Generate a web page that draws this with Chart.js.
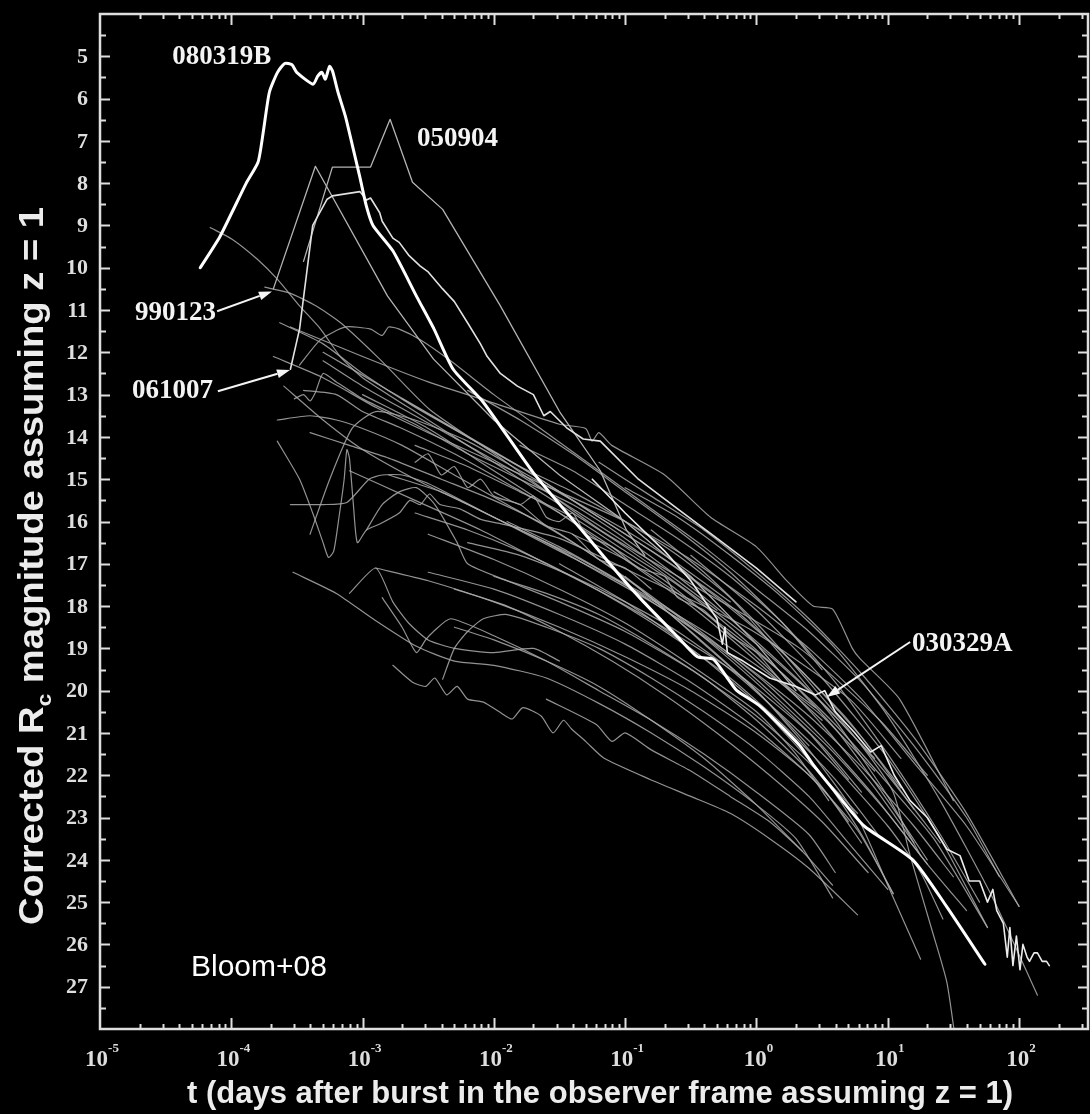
<!DOCTYPE html>
<html>
<head>
<meta charset="utf-8">
<script src="https://cdn.jsdelivr.net/npm/chart.js@4.4.1/dist/chart.umd.min.js"></script>
<style>
  html, body { margin: 0; padding: 0; background: #000; }
  #wrap { width: 1090px; height: 1114px; }
  canvas { display: block; background: #000; }
</style>
</head>
<body>
<div id="wrap"><canvas id="lc" width="1090" height="1114"></canvas></div>
<script>
// Optical afterglow light curves: [time (days, observer frame, z = 1), corrected Rc magnitude]

const xTickExponents = [-5, -4, -3, -2, -1, 0, 1, 2];
const yTickLabels = [5, 6, 7, 8, 9, 10, 11, 12, 13, 14, 15, 16, 17, 18, 19, 20, 21, 22, 23, 24, 25, 26, 27];

const grb080319B = [[5.8e-5,10.0],[8.2e-5,9.26],[1.3e-4,8.0],[1.6e-4,7.5],[1.75e-4,6.8],[1.95e-4,5.85],[2.25e-4,5.38],[2.55e-4,5.17],[2.9e-4,5.2],[3.15e-4,5.38],[4.2e-4,5.66],[4.55e-4,5.47],[4.9e-4,5.38],[5.2e-4,5.54],[5.6e-4,5.24],[5.9e-4,5.35],[6.5e-4,5.85],[7.4e-4,6.42],[8.5e-4,7.2],[9.6e-4,7.9],[1.07e-3,8.55],[1.2e-3,9.0],[1.7e-3,9.6],[2.6e-3,10.7],[3.5e-3,11.45],[4.9e-3,12.4],[8.3e-3,13.18],[2.0e-2,14.85],[4.8e-2,16.25],[9.6e-2,17.36],[0.138,17.9],[0.246,18.7],[0.355,19.2],[0.47,19.26],[0.6,19.7],[0.71,20.0],[1.07,20.37],[2.14,21.3],[2.7,21.75],[4.4,22.56],[6.6,23.2],[15.5,24.0],[28,25.1],[55,26.47]];

const grb050904 = [[3.55e-4,9.85],[5.89e-4,7.62],[1.15e-3,7.62],[1.62e-3,6.49],[2.4e-3,7.98],[4.07e-3,8.62],[1.12e-2,10.9],[3.16e-2,13.4],[6.46e-2,14.8],[0.102,16.2],[0.141,16.8]];

const grb990123 = [[2.09e-4,10.5],[4.37e-4,7.6],[1.55e-3,10.67],[3.47e-3,12.16],[1.0e-2,13.6],[3.16e-2,14.9],[0.1,16.0],[0.316,17.3],[1.0,18.9],[2.0,20.0]];

const grb061007 = [[2.82e-4,12.4],[3.31e-4,11.45],[4.17e-4,9.0],[5.37e-4,8.38],[5.89e-4,8.3],[9.55e-4,8.2],[1.07e-3,8.4],[1.15e-3,8.35],[1.35e-3,8.7],[1.41e-3,8.9],[1.7e-3,9.3],[1.9e-3,9.4],[2.24e-3,9.7],[2.75e-3,9.96],[3.16e-3,10.1],[4.07e-3,10.5],[5.0e-3,10.8],[6.3e-3,11.3],[7.9e-3,11.8],[8.9e-3,12.1],[1.12e-2,12.5],[1.51e-2,12.8],[2.0e-2,13.0],[2.4e-2,13.5],[2.69e-2,13.4],[3.63e-2,13.8],[4.79e-2,14.05],[6.46e-2,14.1],[0.126,15.0],[0.251,15.7],[0.501,16.4],[1.0,17.1],[2.0,17.9]];

const grb030329A = [[5.62e-2,15.0],[0.1,15.8],[0.2,16.7],[0.316,17.4],[0.5,18.3],[0.55,18.9],[0.575,18.5],[0.6,19.1],[0.79,19.3],[1.26,19.7],[2.0,19.9],[2.82,20.1],[3.31,20.0],[3.98,20.5],[5.62,21.0],[7.41,21.45],[8.91,21.3],[11.2,22.0],[14.8,22.6],[20,23.0],[28.2,23.75],[35.5,23.9],[41.7,24.5],[50.1,24.5],[57.5,25.0],[63.1,24.7],[67.6,25.2],[75.9,25.5],[81.3,26.3],[85.1,25.6],[89.8,26.5],[95.5,25.8],[101.6,26.6],[107,26.0],[115,26.3],[120,26.4],[130,26.2],[138,26.2],[150,26.4],[162,26.4],[170,26.5]];

const lc01 = [[6.9e-5,9.05],[1.02e-4,9.33],[1.58e-4,9.8],[2.24e-4,10.27],[3.31e-4,10.9],[4.79e-4,11.45],[6.76e-4,12.1],[1.0e-3,12.6],[3.16e-3,13.6],[1.0e-2,14.6],[3.16e-2,15.6],[0.1,16.6],[0.316,17.7],[1.0,18.9],[3.16,20.3],[7.94,21.6]];
const lc02 = [[1.8e-4,10.46],[2.8e-4,10.6],[4.4e-4,10.9],[6.8e-4,11.3],[1.35e-3,12.16],[3.24e-3,13.35],[1.12e-2,14.5],[6.46e-2,16.2],[0.37,17.6],[2.14,19.0],[8.7,20.7],[20,22.0]];
const lc03 = [[2.82e-4,11.4],[1.0e-3,12.1],[3.16e-3,12.7],[1.0e-2,13.2],[3.16e-2,13.7],[5.0e-2,13.8],[5.6e-2,14.1],[6.3e-2,13.9],[7.9e-2,14.2],[0.2,14.9],[0.447,15.9],[1.0,16.6],[1.7,17.4],[2.7,18.0],[3.8,18.07],[5.37,19.0],[6.17,19.25],[12.3,20.2],[31.6,22.6]];
const lc04 = [[2.09e-4,12.1],[5.0e-4,12.6],[1.26e-3,13.3],[3.16e-3,13.9],[1.0e-2,14.6],[3.16e-2,15.3],[0.1,16.0],[0.316,16.9],[1.0,18.0],[2.51,19.0],[6.31,20.2],[15.8,21.7],[39.8,23.2],[100,25.1]];
const lc05 = [[2.34e-4,11.3],[5.0e-4,11.8],[1.0e-3,12.5],[2.51e-3,13.3],[6.31e-3,14.0],[1.58e-2,14.7],[3.98e-2,15.3],[0.1,16.0],[0.251,16.8],[0.631,17.8],[1.58,19.2],[3.98,20.7],[10,22.5],[17.8,23.9]];
const lc06 = [[3.55e-4,12.9],[6.31e-4,13.0],[1.0e-3,13.4],[2.0e-3,13.8],[5.0e-3,14.4],[1.26e-2,15.1],[3.16e-2,15.8],[7.94e-2,16.6],[0.2,17.4],[0.5,18.4],[1.26,19.5],[3.16,20.8],[7.94,22.3],[15.8,23.6]];
const lc07 = [[2.24e-4,13.6],[3.98e-4,13.5],[6.31e-4,13.6],[1.0e-3,13.8],[2.0e-3,14.2],[5.0e-3,14.9],[1.26e-2,15.6],[3.16e-2,16.3],[7.94e-2,17.1],[0.2,18.0],[0.5,19.0],[1.26,20.1],[3.16,21.3],[6.31,22.4]];
const lc08 = [[3.02e-4,13.1],[3.55e-4,13.0],[3.98e-4,13.15],[4.37e-4,12.95],[5.0e-4,12.5],[6.31e-4,12.7],[1.0e-3,13.1],[2.51e-3,13.7],[6.31e-3,14.4],[1.58e-2,15.0],[3.98e-2,15.6],[0.1,16.4],[0.251,17.3],[0.631,18.3],[1.58,19.4],[3.98,20.6],[10,22.0],[25.1,23.6]];
const lc09 = [[3.31e-4,12.3],[4.79e-4,11.7],[7.41e-4,11.4],[1.15e-3,11.45],[1.41e-3,11.6],[1.58e-3,11.4],[1.9e-3,11.45],[2.75e-3,11.7],[4.68e-3,12.2],[1.0e-2,13.0],[2.51e-2,13.9],[6.31e-2,14.8],[0.158,15.7],[0.398,16.6],[1.0,17.6],[2.51,18.6],[6.31,19.8],[15.8,21.3],[39.8,23.0],[70.8,24.4]];
const lc10 = [[2.51e-4,12.8],[5.0e-4,13.6],[1.0e-3,14.3],[2.51e-3,15.0],[6.31e-3,15.6],[1.58e-2,16.2],[3.98e-2,16.8],[0.1,17.5],[0.251,18.3],[0.631,19.2],[1.58,20.3],[3.98,21.5],[10,22.9],[20,24.1]];
const lc11 = [[2.24e-4,14.1],[3.31e-4,15.0],[4.17e-4,15.8],[5.0e-4,16.5],[5.5e-4,16.85],[6.03e-4,16.7],[6.61e-4,15.9],[7.24e-4,15.0],[7.59e-4,14.3],[7.94e-4,14.5],[8.51e-4,15.6],[9.12e-4,16.5],[1.07e-3,16.2],[1.35e-3,16.06],[1.9e-3,15.8],[2.29e-3,15.5],[2.75e-3,15.6],[3.24e-3,15.35],[3.89e-3,15.6],[5.5e-3,15.7],[7.94e-3,15.95],[1.12e-2,16.05],[3.16e-2,16.4],[0.155,17.4],[0.891,18.55],[5.13,20.2],[12.6,21.6]];
const lc12 = [[3.98e-4,16.3],[5.62e-4,15.0],[8.32e-4,13.8],[1.26e-3,13.4],[2.51e-3,13.6],[6.31e-3,14.1],[1.58e-2,14.8],[3.98e-2,15.5],[0.1,16.2],[0.251,17.0],[0.631,17.9]];
const lc13 = [[2.82e-4,15.6],[5.0e-4,15.6],[7.59e-4,15.55],[1.12e-3,15.0],[1.41e-3,14.9],[2.0e-3,14.9],[3.16e-3,15.1],[1.0e-2,15.9],[3.16e-2,16.7],[0.1,17.5],[0.316,18.4],[1.0,19.4],[3.16,20.6],[7.94,21.9]];
const lc14 = [[1.07e-3,16.2],[1.41e-3,15.6],[1.9e-3,15.3],[2.57e-3,15.2],[3.55e-3,15.6],[5.25e-3,16.5],[6.31e-3,17.0],[1.26e-2,17.4],[3.16e-2,17.9],[0.1,18.6],[0.316,19.5],[1.0,20.6],[2.51,21.7],[5.89,22.9]];
const lc15 = [[2.95e-4,17.2],[6.31e-4,17.7],[1.2e-3,18.3],[2.57e-3,18.95],[5.0e-3,19.3],[1.0e-2,19.4],[2.51e-2,19.7],[6.31e-2,20.3],[0.158,21.0],[0.398,21.8],[1.0,22.7],[2.0,23.5],[3.8,24.9]];
const lc16 = [[7.94e-4,17.7],[1.26e-3,17.1],[1.7e-3,17.9],[2.24e-3,18.4],[3.16e-3,18.8],[5.0e-3,19.0],[1.0e-2,19.1],[2.0e-2,19.0],[3.16e-2,19.3]];
const lc17 = [[1.26e-3,17.1],[3.16e-3,17.4],[1.0e-2,17.9],[3.16e-2,18.5],[0.1,19.2],[0.316,20.0],[1.0,21.0],[2.51,22.0],[5.89,23.3],[11,24.8]];
const lc18 = [[1.7e-3,19.4],[2.4e-3,19.8],[3.02e-3,19.9],[3.55e-3,19.7],[4.37e-3,20.1],[5.25e-3,19.9],[6.31e-3,20.2],[8.32e-3,20.27],[1.1e-2,20.5],[1.38e-2,20.67],[1.66e-2,20.4],[2.29e-2,20.6],[2.82e-2,21.0],[3.39e-2,20.7],[3.89e-2,20.9],[5.0e-2,21.2],[6.92e-2,21.6],[0.155,22.1],[0.316,22.5],[0.631,22.9],[1.26,23.5],[2.51,24.2],[5.89,25.3]];
const lc19 = [[4.07e-3,19.73],[5.0e-3,19.0],[6.31e-3,18.6],[8.32e-3,18.3],[1.26e-2,18.2],[2.51e-2,18.5],[6.31e-2,19.0],[0.158,19.7],[0.398,20.5],[1.0,21.4],[2.51,22.5],[5.01,23.6],[10,24.7]];
const lc20 = [[1.41e-3,17.8],[2.0e-3,18.5],[2.57e-3,19.1],[3.02e-3,18.8],[3.47e-3,18.6],[4.68e-3,18.3],[1.0e-2,18.7],[2.51e-2,19.3],[6.31e-2,20.0],[0.158,20.7],[0.398,21.5],[1.0,22.4],[2.51,23.4],[3.98,24.3]];
const lc21 = [[5.0e-3,17.6],[1.26e-2,18.0],[3.16e-2,18.6],[7.94e-2,19.3],[0.2,20.1],[0.5,21.0],[1.26,22.0],[3.16,23.1],[7.08,24.3]];
const lc22 = [[5.0e-3,18.5],[1.0e-2,18.8],[2.51e-2,19.3],[6.31e-2,19.9],[0.158,20.7],[0.398,21.6],[1.0,22.7],[2.24,23.8]];
const lc23 = [[1.58e-3,14.9],[3.98e-3,15.3],[1.0e-2,15.9],[2.51e-2,16.5],[6.31e-2,17.2],[0.158,17.9],[0.398,18.7],[1.0,19.6],[2.51,20.6],[6.31,21.8],[15.8,23.2],[31.6,24.4]];
const lc24 = [[2.51e-3,14.2],[6.31e-3,14.7],[1.58e-2,15.3],[3.98e-2,15.9],[0.1,16.7],[0.251,17.5],[0.631,18.5],[1.58,19.6],[3.98,20.8],[10,22.2],[22.4,23.5],[57.5,25.6]];
const lc25 = [[6.31e-3,16.5],[1.58e-2,16.8],[3.98e-2,17.3],[0.1,17.9],[0.251,18.6],[0.631,19.5],[1.58,20.6],[3.98,21.8],[10,23.2],[17.8,24.3],[26.3,25.4]];
const lc26 = [[1.26e-2,16.0],[3.16e-2,16.6],[7.94e-2,17.3],[0.2,18.0],[0.5,18.9],[1.26,19.9],[3.16,21.1],[7.94,22.5],[20,24.1],[39.8,25.2]];
const lc27 = [[0.1,15.2],[0.251,15.9],[0.631,16.8],[1.58,17.8],[3.98,19.0],[10,20.6],[25.1,22.6],[63,24.9],[138,27.2]];
const lc28 = [[6.31e-2,14.6],[0.158,15.4],[0.398,16.2],[1.0,17.2],[2.51,18.3],[6.31,19.6],[15.8,21.1],[39.8,22.9],[100,25.1]];
const lc29 = [[0.316,16.8],[1.0,18.1],[3.16,19.7],[10,21.6],[25.1,23.5],[57.5,25.6]];
const lc30 = [[0.158,16.2],[0.398,17.2],[1.0,18.4],[2.51,19.8],[6.31,21.3],[11,22.4],[14.8,23.9],[21.9,25.7],[28.2,26.9],[33.9,28.6]];
const lc31 = [[0.1,17.3],[0.316,18.6],[1.0,20.0],[2.51,21.4],[5.89,23.0],[10,24.6],[17.8,26.35]];
const lc32 = [[3.16e-2,17.0],[0.1,17.9],[0.316,19.0],[1.0,20.3],[3.16,22.0],[6.31,23.4],[11,24.8]];
const lc33 = [[3.16e-3,16.3],[1.0e-2,16.9],[3.16e-2,17.6],[0.1,18.4],[0.316,19.4],[1.0,20.5],[2.0,21.5],[3.55,22.6]];
const lc34 = [[5.0e-4,12.2],[1.0e-3,12.8],[2.51e-3,13.5],[6.31e-3,14.2],[1.58e-2,14.9],[3.98e-2,15.7],[0.1,16.5],[0.251,17.4],[0.5,18.1]];
const lc35 = [[3.98e-4,13.9],[7.94e-4,14.2],[1.58e-3,14.5],[3.98e-3,15.0],[1.0e-2,15.5],[2.51e-2,16.1],[6.31e-2,16.9],[0.158,17.8],[0.398,18.9],[1.0,20.0],[2.51,21.3]];
const lc36 = [[1.0e-2,15.3],[1.58e-2,15.6],[2.0e-2,15.4],[2.51e-2,15.9],[3.16e-2,16.0],[3.98e-2,15.8],[5.0e-2,16.3],[7.94e-2,16.6],[0.126,17.1],[0.2,17.3],[0.251,17.8],[0.398,18.1],[0.631,18.7],[1.0,19.1],[1.58,19.8],[2.82,20.4]];
const lc37 = [[2.51e-2,20.2],[6.03e-2,20.8],[7.94e-2,21.2],[0.1,21.0],[0.158,21.4],[0.316,21.9],[0.631,22.5],[1.26,23.1],[2.24,23.8],[3.8,24.6]];
const lc38 = [[2.51e-3,15.8],[6.31e-3,16.2],[1.58e-2,16.7],[3.98e-2,17.3],[0.1,18.0],[0.251,18.8],[0.631,19.7],[1.58,20.8],[3.98,22.1],[8.91,23.5]];
const lc39 = [[1.0e-2,17.3],[2.51e-2,17.7],[6.31e-2,18.2],[0.158,18.9],[0.398,19.7],[1.0,20.7],[2.51,21.9],[5.01,23.1]];
const lc40 = [[3.98e-2,16.3],[0.1,16.9],[0.251,17.7],[0.631,18.6],[1.58,19.6],[3.98,20.9],[10,22.6],[20,24.0]];
const lc41 = [[1.0e-3,13.0],[3.16e-3,13.8],[1.0e-2,14.8],[3.16e-2,15.8],[0.1,16.9],[0.316,18.0],[1.0,19.3],[3.16,20.7]];
const lc42 = [[5.0e-4,12.0],[1.58e-3,12.9],[5.0e-3,13.8],[1.58e-2,14.7],[5.0e-2,15.7],[0.158,16.7],[0.5,17.8],[1.58,19.1],[5.0,20.7],[12.6,22.3]];
const lc43 = [[2.0e-3,13.1],[6.31e-3,14.0],[2.0e-2,14.9],[6.31e-2,15.9],[0.2,16.9],[0.631,18.0],[2.0,19.4],[6.31,21.1],[15.8,22.8]];
const lc44 = [[7.94e-4,14.8],[2.51e-3,15.5],[7.94e-3,16.2],[2.51e-2,17.0],[7.94e-2,17.8],[0.251,18.7],[0.794,19.7],[2.51,21.0],[5.01,22.1]];
const lc45 = [[3.16e-3,17.2],[1.0e-2,17.6],[3.16e-2,18.2],[0.1,18.9],[0.316,19.8],[1.0,20.9],[3.16,22.3],[6.31,23.6]];
const lc46 = [[1.58e-2,14.2],[3.98e-2,14.8],[0.1,15.6],[0.251,16.4],[0.631,17.3],[1.58,18.4],[3.98,19.8],[10,21.5],[25.1,23.4],[50,25.0]];
const lc47 = [[2.51e-3,14.6],[3.16e-3,14.4],[3.98e-3,14.9],[5.0e-3,14.7],[6.31e-3,15.2],[7.94e-3,15.0],[1.0e-2,15.4],[1.58e-2,15.6],[2.51e-2,16.1],[3.98e-2,16.3],[6.31e-2,16.9],[0.1,17.1],[0.158,17.6]];
const lc48 = [[6.31e-3,12.9],[1.58e-2,13.6],[3.98e-2,14.4],[0.1,15.3],[0.251,16.2],[0.631,17.2],[1.58,18.4],[3.16,19.5]];

const otherBursts = [lc01, lc02, lc03, lc04, lc05, lc06, lc07, lc08, lc09, lc10,
  lc11, lc12, lc13, lc14, lc15, lc16, lc17, lc18, lc19, lc20,
  lc21, lc22, lc23, lc24, lc25, lc26, lc27, lc28, lc29, lc30,
  lc31, lc32, lc33, lc34, lc35, lc36, lc37, lc38, lc39, lc40,
  lc41, lc42, lc43, lc44, lc45, lc46, lc47, lc48];

// ---- drawing setup ----
const toPoints = arr => arr.map(([t, m]) => ({ x: t, y: m }));

const datasets = [];
datasets.push({ label: '080319B', data: toPoints(grb080319B), borderColor: '#ffffff', borderWidth: 3, tension: 0.2, order: 0 });
datasets.push({ label: '030329A', data: toPoints(grb030329A), borderColor: '#ececec', borderWidth: 1.6, tension: 0, order: 1 });
datasets.push({ label: '061007', data: toPoints(grb061007), borderColor: '#e2e2e2', borderWidth: 1.6, tension: 0, order: 1 });
datasets.push({ label: '050904', data: toPoints(grb050904), borderColor: '#b4b4b4', borderWidth: 1.3, tension: 0, order: 2 });
datasets.push({ label: '990123', data: toPoints(grb990123), borderColor: '#b4b4b4', borderWidth: 1.3, tension: 0, order: 2 });
otherBursts.forEach((lc, i) => {
  datasets.push({ label: 'lc' + (i + 1), data: toPoints(lc), borderColor: 'rgba(172,172,172,0.85)', borderWidth: 1.2, tension: 0.2, order: 5 });
});

const burstLabels = [
  { text: '080319B', t: 3.55e-5, m: 5.0 },
  { text: '050904', t: 2.6e-3, m: 6.94 },
  { text: '990123', t: 1.85e-5, m: 11.05, from: [7.8e-5, 11.03], to: [2.04e-4, 10.56] },
  { text: '061007', t: 1.75e-5, m: 12.9, from: [7.9e-5, 12.92], to: [2.8e-4, 12.42] },
  { text: '030329A', t: 15.3, m: 18.88, from: [14.8, 18.85], to: [3.44, 20.15] }
];

const INK = '#dedede';
const SERIF = '"Liberation Serif", "Times New Roman", serif';
const SANS = '"Liberation Sans", Arial, sans-serif';

const backdrop = {
  id: 'backdrop',
  beforeDraw(chart) {
    const c = chart.ctx;
    c.save();
    c.fillStyle = '#000';
    c.fillRect(0, 0, chart.width, chart.height);
    c.restore();
  }
};

function arrow(c, x0, y0, x1, y1) {
  const ang = Math.atan2(y1 - y0, x1 - x0);
  const len = 13, half = 4.5;
  const bx = x1 - len * Math.cos(ang), by = y1 - len * Math.sin(ang);
  c.beginPath();
  c.moveTo(x0, y0);
  c.lineTo(bx, by);
  c.stroke();
  c.beginPath();
  c.moveTo(x1, y1);
  c.lineTo(bx + half * Math.sin(ang), by - half * Math.cos(ang));
  c.lineTo(bx - half * Math.sin(ang), by + half * Math.cos(ang));
  c.closePath();
  c.fill();
}

const frameAxes = {
  id: 'frameAxes',
  afterDraw(chart) {
    const c = chart.ctx;
    const a = chart.chartArea;
    const xs = chart.scales.x, ys = chart.scales.y;
    c.save();
    c.strokeStyle = INK;
    c.fillStyle = INK;
    c.lineCap = 'butt';

    // y ticks (inward, left and right)
    c.lineWidth = 2;
    for (let v = ys.min; v <= ys.max + 1e-9; v += 0.5) {
      if (v <= ys.min || v >= ys.max) continue;
      const py = Math.round(ys.getPixelForValue(v)) + 0.5;
      const len = Number.isInteger(v) ? 10 : 6;
      c.beginPath();
      c.moveTo(a.left, py); c.lineTo(a.left + len, py);
      c.moveTo(a.right, py); c.lineTo(a.right - len, py);
      c.stroke();
    }
    // x ticks (inward, bottom and top)
    for (let d = -5; d <= 3; d++) {
      for (let k = 1; k <= 9; k++) {
        const v = k * Math.pow(10, d);
        if (v <= xs.min * 1.0001 || v >= xs.max) continue;
        const px = Math.round(xs.getPixelForValue(v)) + 0.5;
        const len = k === 1 ? 11 : 5;
        c.beginPath();
        c.moveTo(px, a.bottom); c.lineTo(px, a.bottom - len);
        c.moveTo(px, a.top); c.lineTo(px, a.top + len);
        c.stroke();
      }
    }
    // frame
    c.lineWidth = 2.5;
    c.strokeRect(a.left, a.top, a.right - a.left, a.bottom - a.top);

    // y tick labels
    c.font = 'bold 22px ' + SERIF;
    c.textAlign = 'right';
    c.textBaseline = 'middle';
    yTickLabels.forEach(v => {
      c.fillText(String(v), a.left - 12, ys.getPixelForValue(v) + 1);
    });

    // x tick labels: 10 with raised exponent
    c.textBaseline = 'alphabetic';
    c.textAlign = 'left';
    xTickExponents.forEach(e => {
      const px = xs.getPixelForValue(Math.pow(10, e));
      const base = '10';
      const exp = e < 0 ? '-' + Math.abs(e) : String(e);
      c.font = 'bold 23px ' + SERIF;
      const wb = c.measureText(base).width;
      c.font = 'bold 13px ' + SERIF;
      const we = c.measureText(exp).width;
      const x0 = px - (wb + we) / 2 + 2;
      c.font = 'bold 23px ' + SERIF;
      c.fillText(base, x0, a.bottom + 37);
      c.font = 'bold 13px ' + SERIF;
      c.fillText(exp, x0 + wb, a.bottom + 23);
    });

    // axis titles
    c.fillStyle = '#ececec';
    c.font = 'bold 31px ' + SANS;
    c.textAlign = 'center';
    c.textBaseline = 'alphabetic';
    c.fillText('t (days after burst in the observer frame assuming z = 1)', 600, 1103);

    c.save();
    c.translate(43, 566);
    c.rotate(-Math.PI / 2);
    const p1 = 'Corrected R', sub = 'c', p2 = ' magnitude assuming z = 1';
    c.font = 'bold 35px ' + SANS;
    const w1 = c.measureText(p1).width, w2 = c.measureText(p2).width;
    c.font = 'bold 21px ' + SANS;
    const ws = c.measureText(sub).width;
    const total = w1 + ws + w2;
    c.scale(718 / total, 1);
    const sx = -total / 2;
    c.textAlign = 'left';
    c.font = 'bold 35px ' + SANS;
    c.fillText(p1, sx, 0);
    c.font = 'bold 21px ' + SANS;
    c.fillText(sub, sx + w1, 8);
    c.font = 'bold 35px ' + SANS;
    c.fillText(p2, sx + w1 + ws, 0);
    c.restore();

    // reference note
    c.fillStyle = '#ffffff';
    c.font = '30px ' + SANS;
    c.textAlign = 'left';
    c.fillText('Bloom+08', 191, 976);

    // burst labels and arrows
    c.fillStyle = '#f4f4f4';
    c.strokeStyle = '#f4f4f4';
    c.lineWidth = 2;
    c.font = 'bold 27px ' + SERIF;
    c.textBaseline = 'middle';
    burstLabels.forEach(l => {
      c.fillText(l.text, xs.getPixelForValue(l.t), ys.getPixelForValue(l.m) + 1);
      if (l.from) {
        arrow(c, xs.getPixelForValue(l.from[0]), ys.getPixelForValue(l.from[1]),
                 xs.getPixelForValue(l.to[0]), ys.getPixelForValue(l.to[1]));
      }
    });
    c.restore();
  }
};

new Chart(document.getElementById('lc'), {
  type: 'scatter',
  data: { datasets: datasets.map(d => Object.assign({ showLine: true, pointRadius: 0, fill: false }, d)) },
  options: {
    responsive: false,
    animation: false,
    devicePixelRatio: 1,
    layout: { padding: { left: 100, top: 14, right: 2, bottom: 85 } },
    plugins: { legend: { display: false }, tooltip: { enabled: false } },
    elements: { line: { borderJoinStyle: 'round', borderCapStyle: 'round' }, point: { radius: 0 } },
    scales: {
      x: { type: 'logarithmic', min: 1e-5, max: 335, display: false },
      y: { type: 'linear', min: 4, max: 28, reverse: true, display: false }
    }
  },
  plugins: [backdrop, frameAxes]
});
</script>
</body>
</html>
